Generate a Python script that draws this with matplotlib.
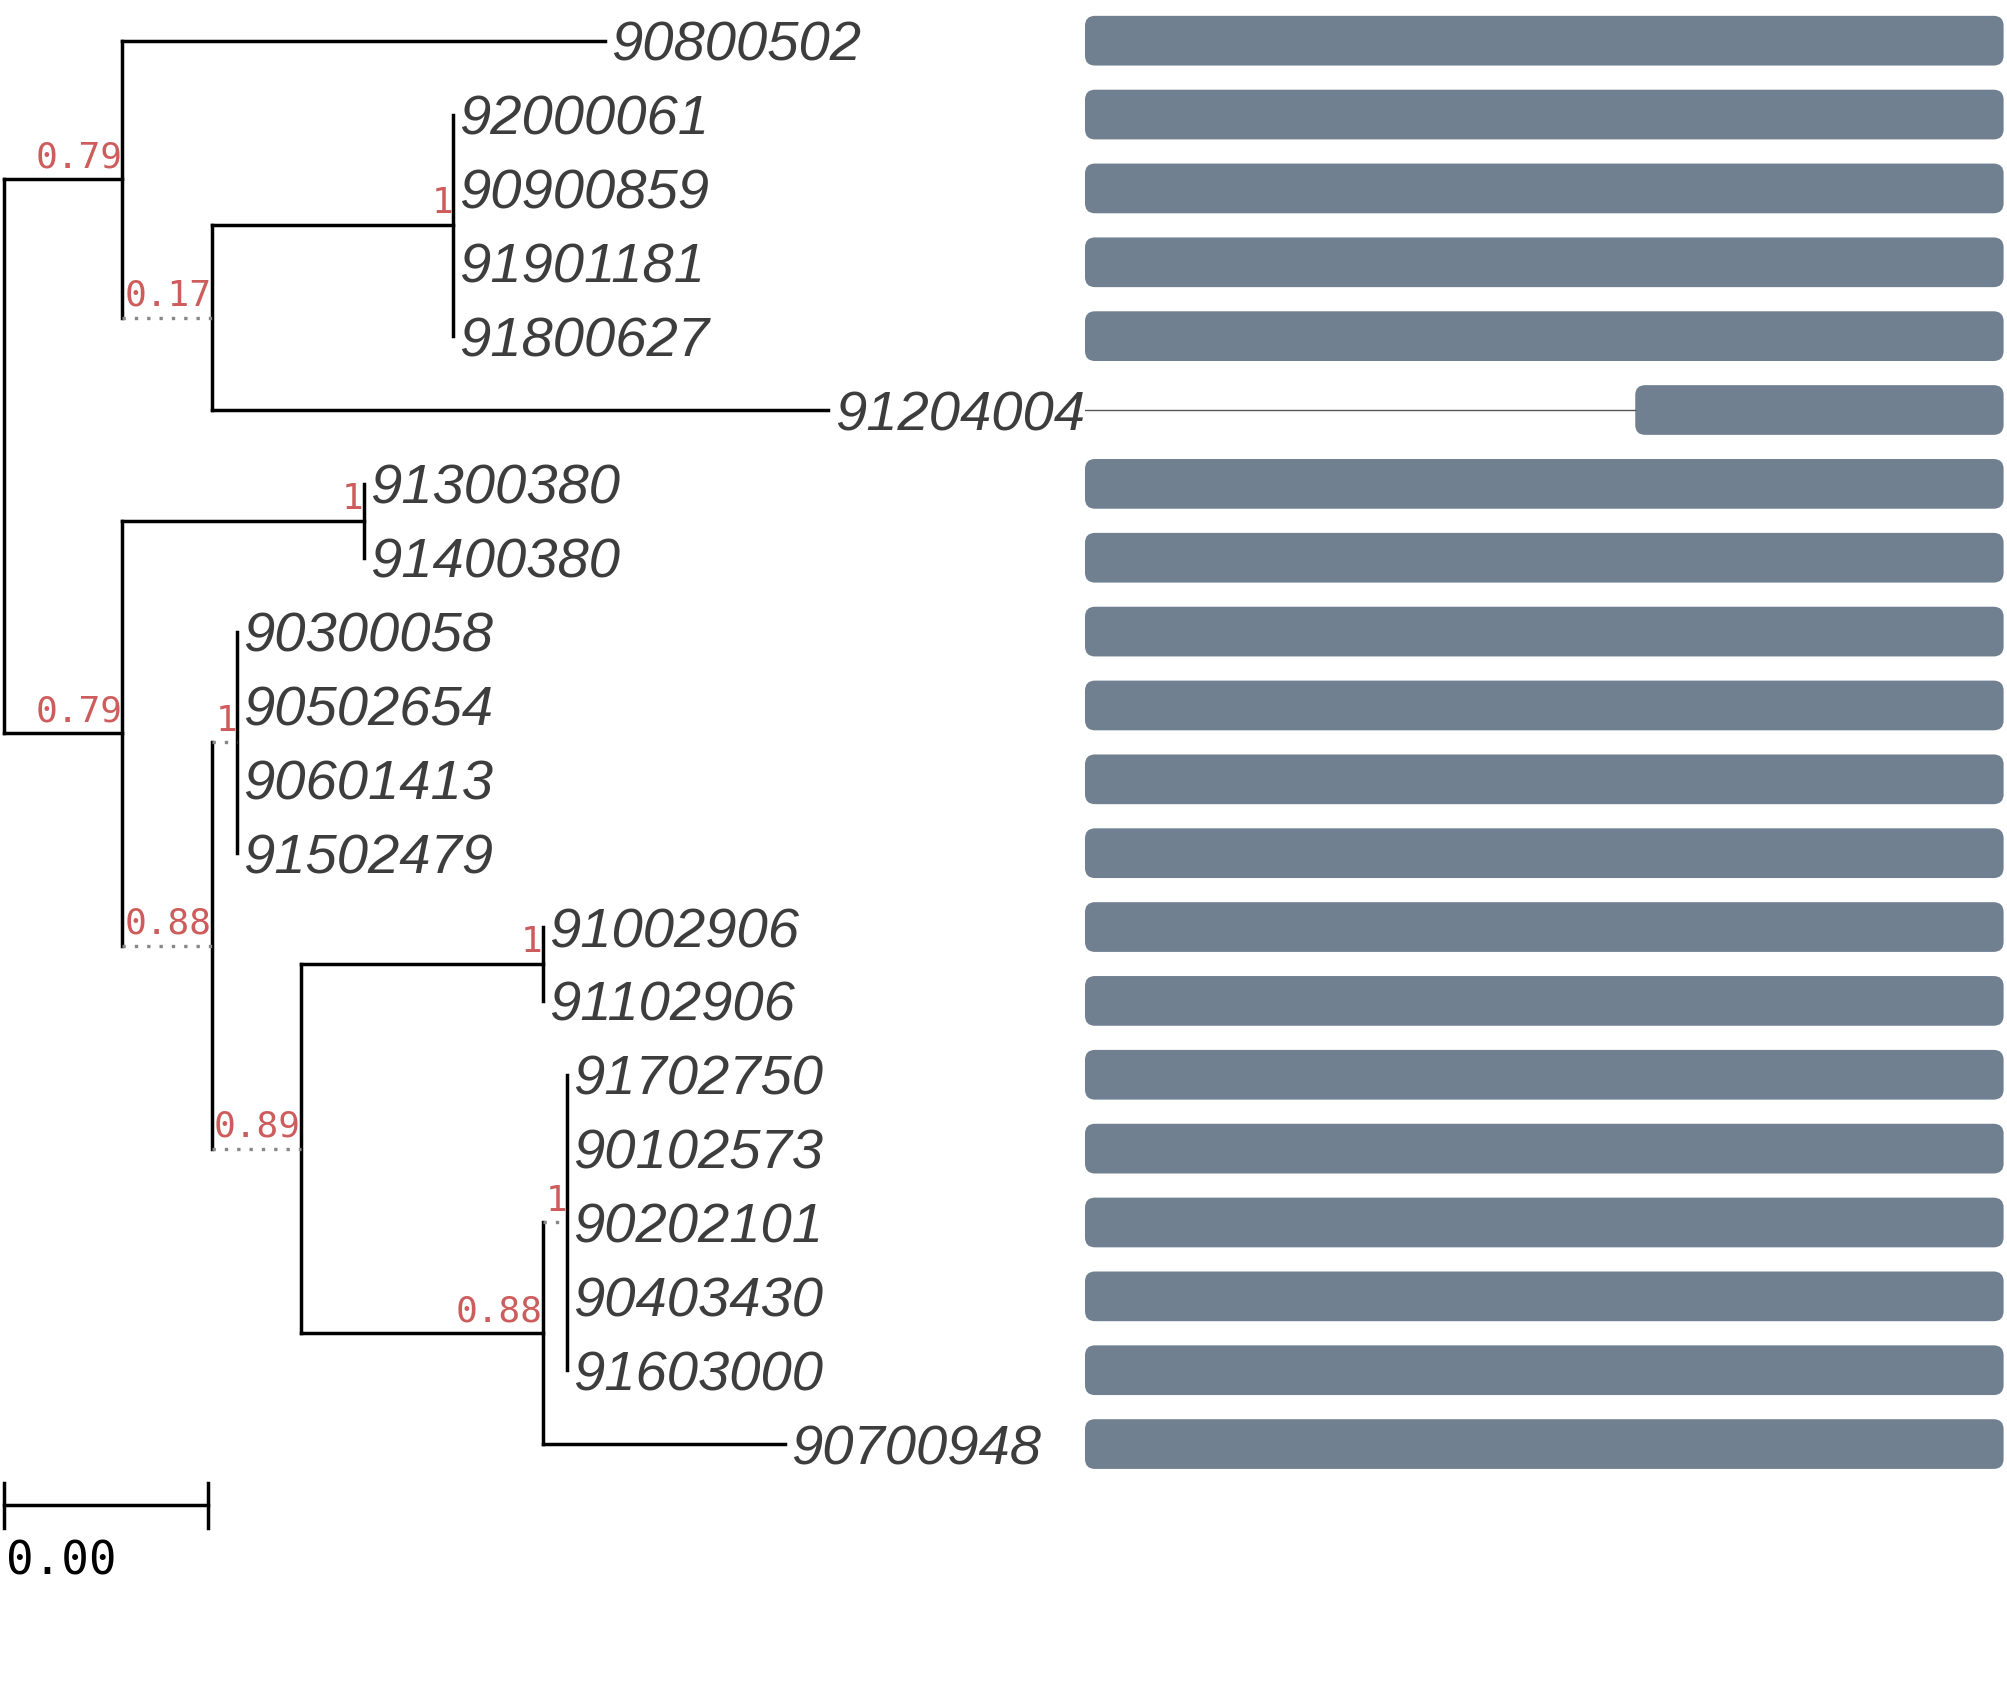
import matplotlib.pyplot as plt
from matplotlib.patches import FancyBboxPatch

# leaves, top to bottom
leaves = ["90800502", "92000061", "90900859", "91901181", "91800627",
          "91204004", "91300380", "91400380", "90300058", "90502654",
          "90601413", "91502479", "91002906", "91102906", "91702750",
          "90102573", "90202101", "90403430", "91603000", "90700948"]
leaf_parent = ["A", "C", "C", "C", "C", "B", "E", "E", "G", "G",
               "G", "G", "I", "I", "K", "K", "K", "K", "K", "J"]
leaf_length = [0.00945, 0, 0, 0, 0, 0.01208, 0, 0, 0, 0,
               0, 0, 0, 0, 0, 0, 0, 0, 0, 0.00475]

# internal nodes
nodes = ["root", "A", "B", "C", "D", "E", "F", "G", "H", "I", "J", "K"]
node_parent = [None, "root", "A", "B", "root", "D", "D", "F", "F", "H", "H", "J"]
node_length = [0, 0.00233, 0.00175, 0.00473, 0.00233, 0.00473,
               0.00175, 0.0005, 0.00175, 0.00473, 0.00473, 0.00048]
node_support = ["", "0.79", "0.17", "1", "0.79", "1", "0.88", "1", "0.89", "1", "0.88", "1"]
node_dotted = [False, False, True, False, False, False, True, True, True, False, False, True]

# alignment coverage per leaf
aln_start = [0, 0, 0, 0, 0, 599, 0, 0, 0, 0, 0, 0, 0, 0, 0, 0, 0, 0, 0, 0]
aln_end = [1000] * 20

scale_len = 0.004

# build tree
parent = dict(zip(nodes, node_parent))
parent.update(zip(leaves, leaf_parent))
length = dict(zip(nodes, node_length))
length.update(zip(leaves, leaf_length))
children = {n: [] for n in nodes}
for n in nodes[1:] + leaves:
    children[parent[n]].append(n)

ypos = {name: i for i, name in enumerate(leaves)}


def get_y(n):
    if n not in ypos:
        ys = [get_y(c) for c in children[n]]
        ypos[n] = (min(ys) + max(ys)) / 2
    return ypos[n]


def get_x(n):
    if parent[n] is None:
        return 0.0
    return get_x(parent[n]) + length[n]


get_y("root")
xpos = {n: get_x(n) for n in nodes + leaves}

fig = plt.figure(figsize=(20.07, 16.89), dpi=100)
split = 1085 / 2007
ax = fig.add_axes([0, 0, split, 1])
axb = fig.add_axes([split, 0, 1 - split, 1])
for a in (ax, axb):
    a.set_ylim(22.316, -0.551)
    a.axis('off')
    a.patch.set_visible(False)
ax.set_xlim(-0.0000686, 0.021185)
axb.set_xlim(0, 1003.7)

line_kw = dict(color='black', lw=2.5, solid_capstyle='projecting')

# verticals
for n in nodes:
    ys = [ypos[c] for c in children[n]]
    ax.plot([xpos[n], xpos[n]], [min(ys), max(ys)], **line_kw)

# horizontals
dotted = dict(zip(nodes, node_dotted))
for n in nodes[1:] + leaves:
    x0, x1 = xpos[parent[n]], xpos[n]
    if x1 - x0 <= 0:
        continue
    if dotted.get(n, False):
        ax.plot([x0, x1], [ypos[n], ypos[n]], color='#888888', lw=2.4,
                linestyle=(0, (1.0, 2.7)), dash_capstyle='butt')
    else:
        ax.plot([x0, x1], [ypos[n], ypos[n]], **line_kw)

# support values
for n, s in zip(nodes, node_support):
    if s:
        ax.annotate(s, (xpos[n], ypos[n]), xytext=(0, 3.5), textcoords='offset points',
                    ha='right', va='bottom', fontsize=26, family='DejaVu Sans Mono',
                    color='#cd5c5c')

# leaf labels
for name in leaves:
    ax.annotate(name, (xpos[name], ypos[name]), xytext=(4.5, 0), textcoords='offset points',
                ha='left', va='center_baseline', fontsize=40.5, style='italic',
                family=['Liberation Sans', 'DejaVu Sans'], color='#3d3d3d')

# scale bar
sb_y = 19.83
ax.plot([0, scale_len], [sb_y, sb_y], color='black', lw=2.5)
for xx in (0, scale_len):
    ax.plot([xx, xx], [sb_y - 0.3, sb_y + 0.3], color='black', lw=2.5)
ax.text(0.00004, 20.59, f"{scale_len:.2f}", ha='left', va='center', fontsize=33,
        family='DejaVu Sans Mono', color='black')

# alignment bars
bar_h = 0.673
for i, (s, e) in enumerate(zip(aln_start, aln_end)):
    if s > 0:
        axb.plot([0, s], [i, i], color='#555555', lw=1.0)
    axb.add_patch(FancyBboxPatch((s, i - bar_h / 2), e - s, bar_h,
                                 boxstyle="round,pad=0,rounding_size=10.9",
                                 mutation_aspect=0.01242, fc='#708090', ec='none'))

fig.savefig('out.png', dpi=100)
